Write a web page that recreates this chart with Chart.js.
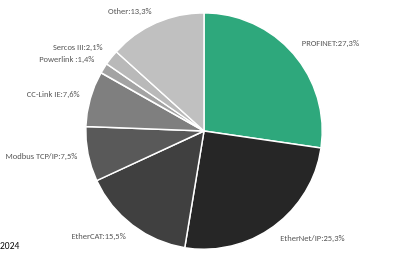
<!DOCTYPE html>
<html lang="en">
<head>
  <meta charset="UTF-8">
  <title>Industrial Ethernet 2024</title>
  <script src="https://cdn.jsdelivr.net/npm/chart.js"></script>
  <style>
    body { margin: 0; background: #fff; }
  </style>
</head>
<body>
  <canvas id="shareChart" width="420" height="265"></canvas>

  <script>
    // market share, percent (clockwise from 12 o'clock)
    const protocols = ['PROFINET', 'EtherNet/IP', 'EtherCAT', 'Modbus TCP/IP', 'CC-Link IE', 'Powerlink ', 'Sercos III', 'Other'];
    const shares = [27.3, 25.3, 15.5, 7.5, 7.6, 1.4, 2.1, 13.3];
    const sliceColors = ['#2ea87c', '#262626', '#404040', '#595959', '#7f7f7f', '#a3a3a3', '#b9b9b9', '#c0c0c0'];
    const yearLabel = '2024';

    const fontFamily = "Carlito, 'Liberation Sans Narrow', 'Noto Sans', sans-serif";

    // Excel-like "outside end" labels, placed from each arc's mid angle
    const outsideLabels = {
      id: 'outsideLabels',
      afterDatasetsDraw(chart) {
        const ctx = chart.ctx;
        const meta = chart.getDatasetMeta(0);
        ctx.save();
        ctx.font = '8.5px ' + fontFamily;
        ctx.fillStyle = '#595959';
        ctx.textBaseline = 'middle';
        meta.data.forEach((arc, i) => {
          const mid = (arc.startAngle + arc.endAngle) / 2;
          const dx = Math.cos(mid), dy = Math.sin(mid);
          const r = arc.outerRadius + 11;
          const text = protocols[i] + ':' + shares[i].toFixed(1).replace('.', ',') + '%';
          const x = arc.x + dx * r;
          let y = arc.y + dy * r + dy * 4;
          y = Math.max(y, 12);
          ctx.textAlign = dx >= 0 ? 'left' : 'right';
          ctx.fillText(text, x, y);
        });
        ctx.restore();
      }
    };

    const yearText = {
      id: 'yearText',
      afterDraw(chart) {
        const ctx = chart.ctx;
        ctx.save();
        ctx.font = '9.5px ' + fontFamily;
        ctx.fillStyle = '#000';
        ctx.textBaseline = 'middle';
        ctx.fillText(yearLabel, 0, 247);
        ctx.restore();
      }
    };

    const ctx = document.getElementById('shareChart').getContext('2d');
    new Chart(ctx, {
      type: 'pie',
      data: {
        labels: protocols,
        datasets: [{
          data: shares,
          backgroundColor: sliceColors,
          borderColor: '#ffffff',
          borderWidth: 1.5
        }]
      },
      options: {
        responsive: false,
        animation: false,
        layout: { padding: { top: 12, bottom: 15, left: 0, right: 12 } },
        plugins: {
          legend: { display: false },
          tooltip: { enabled: false }
        }
      },
      plugins: [outsideLabels, yearText]
    });
  </script>
</body>
</html>
